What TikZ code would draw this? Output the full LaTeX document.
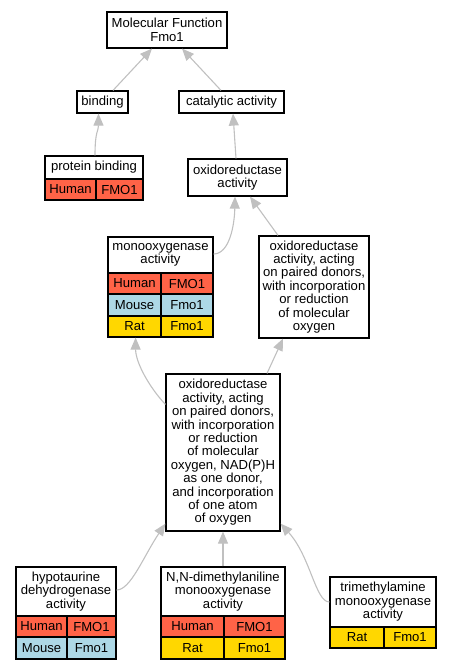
\documentclass[tikz,border=0pt]{standalone}
\usepackage{fontspec}
\setmainfont{Liberation Sans}
\usetikzlibrary{arrows.meta}
\definecolor{human}{HTML}{FF6347}
\definecolor{mouse}{HTML}{ADD8E6}
\definecolor{rat}{HTML}{FFD700}
\definecolor{edgegray}{HTML}{C0C0C0}
\begin{document}
\begin{tikzpicture}[x=1pt,y=-1pt,
  box/.style={draw=black, line width=1.2pt, fill=white, inner sep=0pt, align=center,
    font=\fontsize{13.1}{13.4}\selectfont},
  cell/.style={box},
  hum/.style={cell, fill=human},
  mou/.style={cell, fill=mouse},
  rat/.style={cell, fill=rat},
  edge/.style={draw=edgegray, line width=1.1pt, -{Triangle[length=12pt,width=10pt]}}]
\useasboundingbox (0,0) rectangle (451,669);
% top
\node[box, minimum width=120pt, minimum height=36pt] (mf) at (167,30) {Molecular Function\\Fmo1};
\node[box, minimum width=51pt, minimum height=22pt] (bind) at (102.5,102) {binding};
\node[box, minimum width=105pt, minimum height=22pt] (cat) at (231.5,102) {catalytic activity};
% protein binding
\node[box, minimum width=98pt, minimum height=23pt] (pb) at (94,167.5) {protein binding};
\node[hum, minimum width=51pt, minimum height=21pt] (pbh) at (70.5,189.5) {Human};
\node[hum, minimum width=47pt, minimum height=21pt] (pbg) at (119.5,189.5) {FMO1};
% oxidoreductase
\node[box, minimum width=99pt, minimum height=37pt] (oxred) at (237.5,177.5) {oxidoreductase\\activity};
% monooxygenase
\node[box, minimum width=105pt, minimum height=36pt] (mono) at (160.5,255) {monooxygenase\\activity};
\node[hum, minimum width=53pt, minimum height=21pt] (monoh1) at (134.5,283.5) {Human};
\node[hum, minimum width=52pt, minimum height=21pt] (monog1) at (187,283.5) {FMO1};
\node[mou, minimum width=53pt, minimum height=22pt] (monoh2) at (134.5,305) {Mouse};
\node[mou, minimum width=52pt, minimum height=22pt] (monog2) at (187,305) {Fmo1};
\node[rat, minimum width=53pt, minimum height=21pt] (monoh3) at (134.5,326.5) {Rat};
\node[rat, minimum width=52pt, minimum height=21pt] (monog3) at (187,326.5) {Fmo1};
% oxidoreductase acting
\node[box, minimum width=110pt, minimum height=102pt] (oxact) at (314,287) {oxidoreductase\\activity, acting\\on paired donors,\\with incorporation\\or reduction\\of molecular\\oxygen};
% big
\node[box, minimum width=114pt, minimum height=157pt] (big) at (223,452.5) {oxidoreductase\\activity, acting\\on paired donors,\\with incorporation\\or reduction\\of molecular\\oxygen, NAD(P)H\\as one donor,\\and incorporation\\of one atom\\of oxygen};
% hypotaurine
\node[box, minimum width=100pt, minimum height=49pt] (hypo) at (66,591.5) {hypotaurine\\dehydrogenase\\activity};
\node[hum, minimum width=51pt, minimum height=21pt] (hypoh1) at (41.5,626.5) {Human};
\node[hum, minimum width=49pt, minimum height=21pt] (hypog1) at (91.5,626.5) {FMO1};
\node[mou, minimum width=51pt, minimum height=22pt] (hypoh2) at (41.5,648) {Mouse};
\node[mou, minimum width=49pt, minimum height=22pt] (hypog2) at (91.5,648) {Fmo1};
% N,N
\node[box, minimum width=124pt, minimum height=49pt] (nn) at (223,591.5) {N,N-dimethylaniline\\monooxygenase\\activity};
\node[hum, minimum width=63pt, minimum height=21pt] (nnh1) at (192.5,626.5) {Human};
\node[hum, minimum width=61pt, minimum height=21pt] (nng1) at (254.5,626.5) {FMO1};
\node[rat, minimum width=63pt, minimum height=22pt] (nnh2) at (192.5,648) {Rat};
\node[rat, minimum width=61pt, minimum height=22pt] (nng2) at (254.5,648) {Fmo1};
% trimethylamine
\node[box, minimum width=106pt, minimum height=50pt] (tri) at (383,602) {trimethylamine\\monooxygenase\\activity};
\node[rat, minimum width=54pt, minimum height=21pt] (trih1) at (357,637.5) {Rat};
\node[rat, minimum width=52pt, minimum height=21pt] (trig1) at (410,637.5) {Fmo1};
% edges
\draw[edge] ([xshift=10.5pt]bind.north) -- ([xshift=-15pt]mf.south);
\draw[edge] ([xshift=-10.5pt]cat.north) -- ([xshift=15pt]mf.south);
\draw[edge] ([xshift=1pt]pb.north) .. controls ([xshift=1pt,yshift=25pt]pb.north) and ([xshift=-4pt,yshift=-18pt]bind.south) .. ([xshift=-4pt]bind.south);
\draw[edge] ([xshift=-1.5pt]oxred.north) -- ([xshift=1.5pt]cat.south);
\draw[edge] ([yshift=1pt]mono.east) .. controls ([xshift=16pt,yshift=1pt]mono.east) and ([xshift=-3pt,yshift=-28pt]oxred.south) .. ([xshift=-2.5pt]oxred.south);
\draw[edge] ([xshift=-36pt]oxact.north) -- ([xshift=12.5pt]oxred.south);
\draw[edge] ([yshift=-31pt]big.north west) .. controls ([xshift=-16pt,yshift=-14pt]big.north west) and ([xshift=-26pt,yshift=-25pt]monoh3.south east) .. ([xshift=-26pt]monoh3.south east);
\draw[edge] ([xshift=44pt]big.north) -- ([xshift=-31pt]oxact.south);
\draw[edge] ([yshift=1.5pt]hypo.east) .. controls ([xshift=14pt,yshift=1.5pt]hypo.east) and ([xshift=-22pt,yshift=-25pt]big.south west) .. ([yshift=8pt]big.south west);
\draw[edge] (nn.north) -- (nn.north |- big.south);
\draw[edge] (tri.west) .. controls ([xshift=-14pt]tri.west) and ([xshift=30pt,yshift=-25pt]big.south east) .. ([yshift=8pt]big.south east);
\end{tikzpicture}
\end{document}
